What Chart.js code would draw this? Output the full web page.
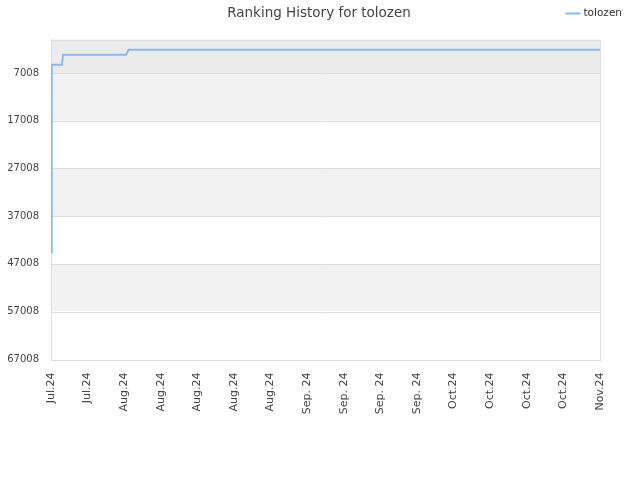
<!DOCTYPE html>
<html>
<head>
<meta charset="utf-8">
<script src="https://cdn.jsdelivr.net/npm/chart.js@4/dist/chart.umd.min.js"></script>
<style>
html,body{margin:0;padding:0;background:#fff;}
#wrap{width:640px;height:480px;position:relative;}
</style>
</head>
<body>
<div id="wrap"><canvas id="c" width="640" height="480"></canvas></div>
<script>
const xLabels = ["Jul.24","Jul.24","Aug.24","Aug.24","Aug.24","Aug.24","Aug.24","Sep. 24","Sep. 24","Sep. 24","Sep. 24","Oct.24","Oct.24","Oct.24","Oct.24","Nov.24"];
const yTicks = [7008, 17008, 27008, 37008, 47008, 57008, 67008];
const seriesName = "tolozen";
const pointPos = [0, 0.02, 0.3, 0.33, 2.05, 2.12, 15];
const ranks = [44640, 5273, 5273, 3182, 3182, 2137, 2137];

const bandPlugin = {
  id: 'bands',
  beforeDatasetsDraw(chart) {
    const {ctx, chartArea: a, scales: {y}} = chart;
    const edges = [y.min].concat(yTicks);
    const colors = ['#ebebeb', '#f2f2f2', '#ffffff', '#f2f2f2', '#ffffff', '#f2f2f2', '#ffffff'];
    ctx.save();
    for (let i = 0; i < edges.length - 1; i++) {
      const t = y.getPixelForValue(edges[i]);
      const b = y.getPixelForValue(edges[i + 1]);
      ctx.fillStyle = colors[i];
      ctx.fillRect(a.left, t, a.right - a.left, b - t);
    }
    ctx.strokeStyle = '#dddddd';
    ctx.lineWidth = 1;
    for (let i = 0; i < yTicks.length - 1; i++) {
      const p = Math.round(y.getPixelForValue(yTicks[i])) + 0.5;
      ctx.beginPath(); ctx.moveTo(a.left, p); ctx.lineTo(a.right, p); ctx.stroke();
    }
    ctx.strokeRect(Math.round(a.left) + 0.5, Math.round(a.top) + 0.5, Math.round(a.right - a.left), Math.round(a.bottom - a.top));
    ctx.restore();
  }
};

const spacer = (size) => ({
  display: true,
  grid: {display: false, drawTicks: false},
  border: {display: false},
  ticks: {display: false},
  afterFit(s) { if (s.isHorizontal()) s.height = size; else s.width = size; }
});

new Chart(document.getElementById('c'), {
  type: 'line',
  data: {
    datasets: [{
      label: seriesName,
      data: pointPos.map((x, i) => ({x: x, y: ranks[i]})),
      xAxisID: 'x',
      yAxisID: 'y',
      borderColor: '#88bbee',
      backgroundColor: '#88bbee',
      borderWidth: 2,
      pointRadius: 0,
      tension: 0,
      fill: false
    }]
  },
  options: {
    responsive: false,
    animation: false,
    layout: {padding: {left: 6, right: 8, top: 0, bottom: 49}},
    plugins: {
      title: {
        display: true,
        text: 'Ranking History for tolozen',
        color: '#444444',
        font: {family: 'DejaVu Sans', size: 13.5, weight: 'normal'},
        padding: {top: 5, bottom: -23}
      },
      legend: {
        display: true,
        position: 'top',
        align: 'end',
        labels: {
          usePointStyle: true,
          pointStyle: 'line',
          boxWidth: 12,
          color: '#333333',
          font: {family: 'DejaVu Sans', size: 10.5},
          padding: 10
        }
      },
      tooltip: {enabled: false}
    },
    scales: {
      x: {
        type: 'linear',
        min: 0,
        max: 15,
        afterBuildTicks(scale) { scale.ticks = xLabels.map((_, i) => ({value: i})); },
        grid: {display: false, drawTicks: false},
        border: {display: true, color: '#dddddd'},
        ticks: {
          autoSkip: false,
          maxRotation: 90,
          minRotation: 90,
          padding: 15,
          color: '#444444',
          font: {family: 'DejaVu Sans', size: 11},
          callback: (v) => xLabels[Math.round(v)]
        }
      },
      xt: Object.assign({type: 'linear', position: 'top', axis: 'x'}, spacer(9)),
      yr: Object.assign({type: 'linear', position: 'right', axis: 'y'}, spacer(32)),
      y: {
        type: 'linear',
        reverse: true,
        min: 1,
        max: 67008,
        afterBuildTicks(scale) { scale.ticks = yTicks.map(v => ({value: v})); },
        afterFit(s) { s.width = 45; },
        grid: {display: false, drawTicks: false},
        border: {display: true, color: '#cccccc'},
        ticks: {
          autoSkip: false,
          padding: 12,
          color: '#444444',
          font: {family: 'DejaVu Sans', size: 10},
          callback: (v) => String(v)
        }
      }
    }
  },
  plugins: [bandPlugin]
});
</script>
</body>
</html>
